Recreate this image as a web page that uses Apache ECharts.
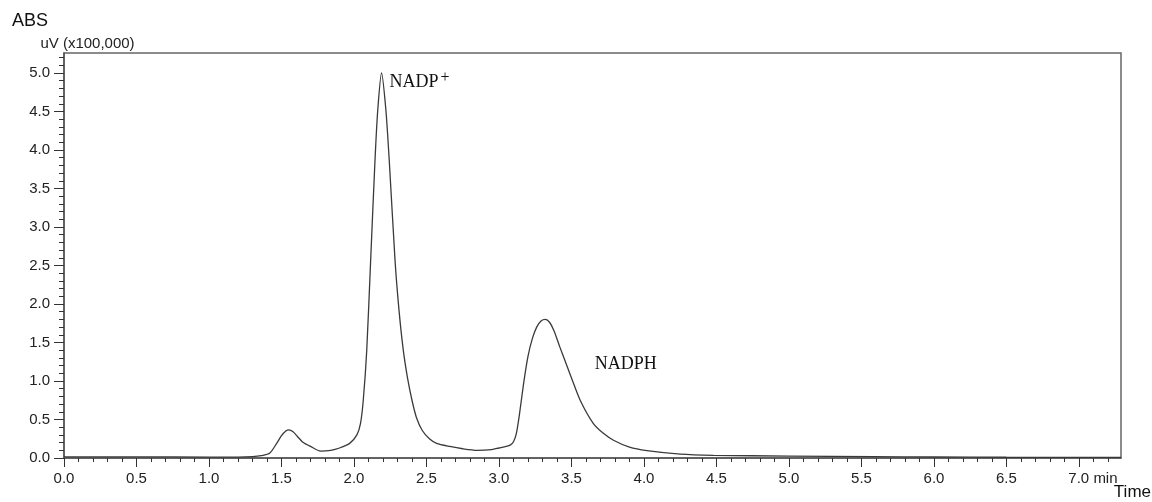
<!DOCTYPE html>
<html>
<head>
<meta charset="utf-8">
<script src="https://cdn.jsdelivr.net/npm/echarts@6/dist/echarts.min.js"></script>
<style>html,body{margin:0;padding:0;background:#fff;}#chart{width:1152px;height:502px;}</style>
</head>
<body>
<div id="chart"></div>
<script>
// retention time (min)
const times = [0.0, 0.5, 1.0, 1.2, 1.3, 1.36, 1.42, 1.47, 1.5, 1.53, 1.55, 1.58, 1.61, 1.65, 1.70, 1.77, 1.84, 1.90, 1.97, 2.02, 2.045, 2.064, 2.088, 2.115, 2.145, 2.164, 2.19, 2.22, 2.243, 2.283, 2.31, 2.34, 2.37, 2.40, 2.43, 2.47, 2.52, 2.57, 2.66, 2.75, 2.85, 2.95, 3.0, 3.05, 3.08, 3.10, 3.12, 3.14, 3.17, 3.20, 3.23, 3.26, 3.29, 3.32, 3.35, 3.38, 3.42, 3.46, 3.50, 3.56, 3.65, 3.72, 3.79, 3.9, 4.02, 4.25, 4.48, 5.0, 5.58, 6.0, 6.5, 7.0, 7.29];
// absorbance, uV (x100,000)
const absorbance = [0.015, 0.015, 0.012, 0.012, 0.017, 0.03, 0.065, 0.2, 0.29, 0.35, 0.365, 0.34, 0.28, 0.20, 0.15, 0.09, 0.10, 0.13, 0.19, 0.30, 0.45, 0.75, 1.40, 2.57, 3.87, 4.52, 5.0, 4.52, 3.87, 2.57, 1.93, 1.40, 1.03, 0.75, 0.53, 0.36, 0.25, 0.19, 0.15, 0.12, 0.10, 0.11, 0.13, 0.15, 0.17, 0.21, 0.32, 0.55, 0.97, 1.32, 1.55, 1.70, 1.78, 1.80, 1.76, 1.65, 1.44, 1.24, 1.04, 0.75, 0.45, 0.32, 0.23, 0.14, 0.095, 0.05, 0.035, 0.025, 0.017, 0.013, 0.01, 0.008, 0.007];
const xTickLabels = ['0.0','0.5','1.0','1.5','2.0','2.5','3.0','3.5','4.0','4.5','5.0','5.5','6.0','6.5','7.0'];
const yTickLabels = ['0.0','0.5','1.0','1.5','2.0','2.5','3.0','3.5','4.0','4.5','5.0'];
const peakLabels = [{name: 'NADP', sup: '+', t: 2.19, v: 5.0}, {name: 'NADPH', sup: '', t: 3.66, v: 1.22}];

const xMajor = xTickLabels.map(Number);
const yMajor = yTickLabels.map(Number);
const xMinor = []; for (let i = 0; i <= 72; i++) xMinor.push(+(i / 10).toFixed(1));
const yMinor = []; for (let i = 0; i <= 52; i++) yMinor.push(+(i / 10).toFixed(1));

const FONT = '"Liberation Sans", Arial, sans-serif';
const SERIF = '"Liberation Serif", "Times New Roman", serif';
const XMAX = 7.29, YMAX = 5.26;

const chart = echarts.init(document.getElementById('chart'));
chart.setOption({
  animation: false,
  backgroundColor: '#fff',
  grid: { left: 64, top: 53, right: 31, bottom: 44, show: true, borderColor: '#666', borderWidth: 1.5 },
  xAxis: [{
    type: 'value', min: 0, max: XMAX,
    axisLine: { show: true, onZero: false, lineStyle: { color: '#555', width: 1.5 } },
    splitLine: { show: false },
    axisTick: { show: true, length: 9, customValues: xMajor, lineStyle: { color: '#333' } },
    axisLabel: {
      customValues: xMajor, margin: 13, fontSize: 15, fontFamily: FONT, color: '#222',
      formatter: function (v) {
        const s = xTickLabels[xMajor.indexOf(v)] || v.toFixed(1);
        return v === 7 ? '{p|' + s + '} min' : s;
      },
      rich: { p: { padding: [0, 0, 0, 28], fontSize: 15, fontFamily: FONT, color: '#222' } }
    }
  }, {
    type: 'value', min: 0, max: XMAX, position: 'bottom',
    axisLine: { show: false }, splitLine: { show: false }, axisLabel: { show: false },
    axisTick: { show: true, length: 4, customValues: xMinor, lineStyle: { color: '#333' } }
  }],
  yAxis: [{
    type: 'value', min: 0, max: YMAX,
    name: 'uV (x100,000)', nameLocation: 'end', nameGap: 9,
    nameTextStyle: { fontSize: 15, fontFamily: FONT, color: '#222', align: 'center', verticalAlign: 'middle', padding: [0, 0, 0, 47] },
    axisLine: { show: true, onZero: false, lineStyle: { color: '#555', width: 1.5 } },
    splitLine: { show: false },
    axisTick: { show: true, length: 10, customValues: yMajor, lineStyle: { color: '#333' } },
    axisLabel: {
      customValues: yMajor, margin: 14, fontSize: 15, fontFamily: FONT, color: '#222',
      formatter: function (v) { return yTickLabels[yMajor.indexOf(v)] || v.toFixed(1); }
    }
  }, {
    type: 'value', min: 0, max: YMAX, position: 'left',
    axisLine: { show: false }, splitLine: { show: false }, axisLabel: { show: false },
    axisTick: { show: true, length: 5, customValues: yMinor, lineStyle: { color: '#333' } }
  }],
  graphic: [
    { type: 'text', left: 12, top: 12, style: { text: 'ABS', font: '18px ' + FONT, fill: '#111' } },
    { type: 'text', right: 1, top: 484, style: { text: 'Time', font: '17px ' + FONT, fill: '#111' } }
  ],
  series: [{
    type: 'line',
    xAxisIndex: 0, yAxisIndex: 0,
    data: times.map((t, i) => [t, absorbance[i]]),
    smooth: 0.25,
    showSymbol: false, symbol: 'none',
    lineStyle: { color: '#3a3a3a', width: 1.3 },
    markPoint: {
      symbol: 'circle', symbolSize: 0, silent: true,
      data: peakLabels.map(p => ({
        coord: [p.t, p.v],
        label: {
          show: true,
          position: p.sup ? [8, 9] : [0, 0],
          align: 'left', verticalAlign: 'middle',
          formatter: p.sup ? '{a|' + p.name + '}{b|' + p.sup + '}' : '{a|' + p.name + '}',
          rich: {
            a: { fontFamily: SERIF, fontSize: 18, color: '#111' },
            b: { fontFamily: SERIF, fontSize: 16, color: '#111', verticalAlign: 'top', padding: [0, 0, 8, 2] }
          }
        }
      }))
    }
  }]
});
</script>
</body>
</html>
